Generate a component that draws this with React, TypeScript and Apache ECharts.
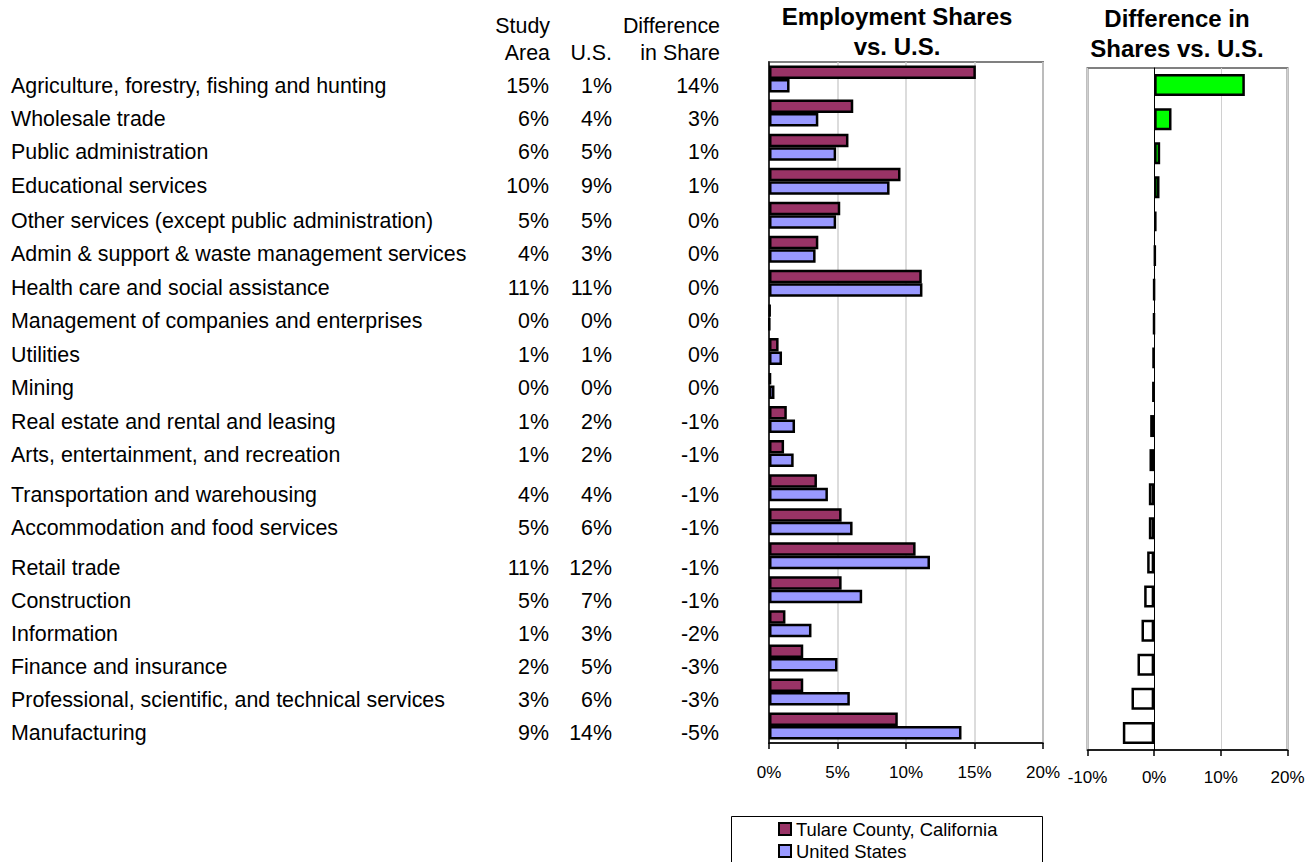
import React, { useEffect, useRef } from "react";
import * as echarts from "echarts";

const categories = [
  "Agriculture, forestry, fishing and hunting",
  "Wholesale trade",
  "Public administration",
  "Educational services",
  "Other services (except public administration)",
  "Admin & support & waste management services",
  "Health care and social assistance",
  "Management of companies and enterprises",
  "Utilities",
  "Mining",
  "Real estate and rental and leasing",
  "Arts, entertainment, and recreation",
  "Transportation and warehousing",
  "Accommodation and food services",
  "Retail trade",
  "Construction",
  "Information",
  "Finance and insurance",
  "Professional, scientific, and technical services",
  "Manufacturing",
];

// table text (rounded, as printed)
const studyAreaLabels = ["15%", "6%", "6%", "10%", "5%", "4%", "11%", "0%", "1%", "0%", "1%", "1%", "4%", "5%", "11%", "5%", "1%", "2%", "3%", "9%"];
const usLabels = ["1%", "4%", "5%", "9%", "5%", "3%", "11%", "0%", "1%", "0%", "2%", "2%", "4%", "6%", "12%", "7%", "3%", "5%", "6%", "14%"];
const diffLabels = ["14%", "3%", "1%", "1%", "0%", "0%", "0%", "0%", "0%", "0%", "-1%", "-1%", "-1%", "-1%", "-1%", "-1%", "-2%", "-3%", "-3%", "-5%"];

// bar values (percent)
const tulareShare = [15.1, 6.15, 5.8, 9.6, 5.2, 3.6, 11.15, 0.1, 0.7, 0.15, 1.3, 1.1, 3.5, 5.3, 10.7, 5.3, 1.2, 2.5, 2.5, 9.4];
const usShare = [1.5, 3.6, 4.9, 8.8, 4.9, 3.4, 11.2, 0.05, 0.95, 0.4, 1.9, 1.8, 4.3, 6.1, 11.75, 6.8, 3.1, 5.0, 5.9, 14.05];
const diffShare = [13.6, 2.6, 0.9, 0.8, 0.35, 0.2, -0.02, -0.05, -0.2, -0.25, -0.6, -0.7, -0.8, -0.8, -1.05, -1.5, -1.9, -2.5, -3.4, -4.7];

const shareTicks = { min: 0, max: 20, interval: 5 };
const diffTicks = { min: -10, max: 20, interval: 10 };

const seriesNames = ["Tulare County, California", "United States"];

// layout: vertical centre of each table row (px)
const rowY = [85.5, 119, 152, 185.5, 221, 254, 287.5, 321, 355, 388, 421.5, 454.5, 495, 527.5, 567.5, 600.5, 633.5, 666.5, 699.5, 733];

const FONT = 'Arial, "Liberation Sans", Helvetica, sans-serif';

export default function App() {
  const ref = useRef<HTMLDivElement>(null);

  useEffect(() => {
    const chart = echarts.init(ref.current!, null, { renderer: "svg" });

    const txt = (text: string, x: number, y: number, align: string, size = 21.4, weight = "normal") => ({
      type: "text",
      x,
      y,
      silent: true,
      style: {
        text,
        fill: "#000",
        fontSize: size,
        fontFamily: FONT,
        fontWeight: weight,
        align,
        verticalAlign: "middle",
      },
    });

    const elements: any[] = [];
    categories.forEach((c, i) => {
      elements.push(txt(c, 11, rowY[i], "left"));
      elements.push(txt(studyAreaLabels[i], 549, rowY[i], "right"));
      elements.push(txt(usLabels[i], 612, rowY[i], "right"));
      elements.push(txt(diffLabels[i], 719, rowY[i], "right"));
    });
    elements.push(txt("Study", 550, 25.5, "right"));
    elements.push(txt("Area", 550, 52.5, "right"));
    elements.push(txt("U.S.", 612, 52.5, "right"));
    elements.push(txt("Difference", 720, 25.5, "right"));
    elements.push(txt("in Share", 720, 52.5, "right"));
    elements.push(txt("Employment Shares", 897, 16.5, "center", 24, "bold"));
    elements.push(txt("vs. U.S.", 897, 46.5, "center", 24, "bold"));
    elements.push(txt("Difference in", 1177, 18.5, "center", 24, "bold"));
    elements.push(txt("Shares vs. U.S.", 1177, 48.5, "center", 24, "bold"));
    elements.push({
      type: "rect",
      silent: true,
      shape: { x: 731.5, y: 816.5, width: 311, height: 80 },
      style: { fill: "transparent", stroke: "#000", lineWidth: 1 },
    });

    const axisLabel = (margin: number) => ({
      formatter: "{value}%",
      fontSize: 17,
      color: "#000",
      fontFamily: FONT,
      margin,
    });

    const legendBase = {
      orient: "vertical",
      left: 778,
      itemWidth: 12,
      itemHeight: 12,
      icon: "rect",
      selectedMode: false,
      padding: 0,
      textStyle: { fontSize: 18.4, color: "#000", fontFamily: FONT },
    };

    chart.setOption({
      animation: false,
      backgroundColor: "#fff",
      textStyle: { fontFamily: FONT },
      grid: [
        { left: 769, top: 62, width: 274, height: 681, show: true, borderColor: "#808080", borderWidth: 2, backgroundColor: "#fff" },
        { left: 1087.5, top: 68, width: 200, height: 682, show: true, borderColor: "#808080", borderWidth: 2, backgroundColor: "#fff" },
      ],
      xAxis: [
        {
          gridIndex: 0,
          type: "value",
          ...shareTicks,
          axisLine: { show: true, lineStyle: { color: "#000", width: 1.5 } },
          axisTick: { show: true, length: 6, lineStyle: { color: "#000", width: 1.5 } },
          axisLabel: axisLabel(21),
          splitLine: { show: true, lineStyle: { color: "#d0d0d0", width: 1.5 } },
        },
        {
          gridIndex: 1,
          type: "value",
          ...diffTicks,
          axisLine: { show: true, onZero: false, lineStyle: { color: "#000", width: 1.5 } },
          axisTick: { show: true, length: 6, lineStyle: { color: "#000", width: 1.5 } },
          axisLabel: axisLabel(19),
          splitLine: { show: true, lineStyle: { color: "#d0d0d0", width: 1 } },
        },
      ],
      yAxis: [
        {
          gridIndex: 0,
          type: "category",
          data: categories,
          inverse: true,
          axisLabel: { show: false },
          axisTick: { show: false },
          axisLine: { show: true, lineStyle: { color: "#000", width: 1.5 } },
        },
        {
          gridIndex: 1,
          type: "category",
          data: categories,
          inverse: true,
          axisLabel: { show: false },
          axisTick: { show: false },
          axisLine: { show: true, onZero: true, lineStyle: { color: "#000", width: 1 } },
        },
      ],
      legend: [
        { ...legendBase, data: [seriesNames[0]], top: 820 },
        { ...legendBase, data: [seriesNames[1]], top: 842 },
      ],
      graphic: { elements },
      series: [
        {
          name: seriesNames[0],
          type: "bar",
          xAxisIndex: 0,
          yAxisIndex: 0,
          data: tulareShare,
          barWidth: 13.5,
          barGap: "0%",
          itemStyle: { color: "#993366", borderColor: "#000", borderWidth: 2.5 },
        },
        {
          name: seriesNames[1],
          type: "bar",
          xAxisIndex: 0,
          yAxisIndex: 0,
          data: usShare,
          barWidth: 13.5,
          barGap: "0%",
          itemStyle: { color: "#9999ff", borderColor: "#000", borderWidth: 2.5 },
        },
        {
          name: "Difference in Share",
          type: "bar",
          xAxisIndex: 1,
          yAxisIndex: 1,
          data: diffShare.map((v) => ({ value: v, itemStyle: { color: v >= 0 ? "#00ff00" : "#ffffff" } })),
          barWidth: 22,
          itemStyle: { borderColor: "#000", borderWidth: 2.5 },
        },
      ],
    });

    return () => chart.dispose();
  }, []);

  return <div ref={ref} style={{ position: "absolute", left: 0, top: 0, width: 1314, height: 862 }} />;
}
